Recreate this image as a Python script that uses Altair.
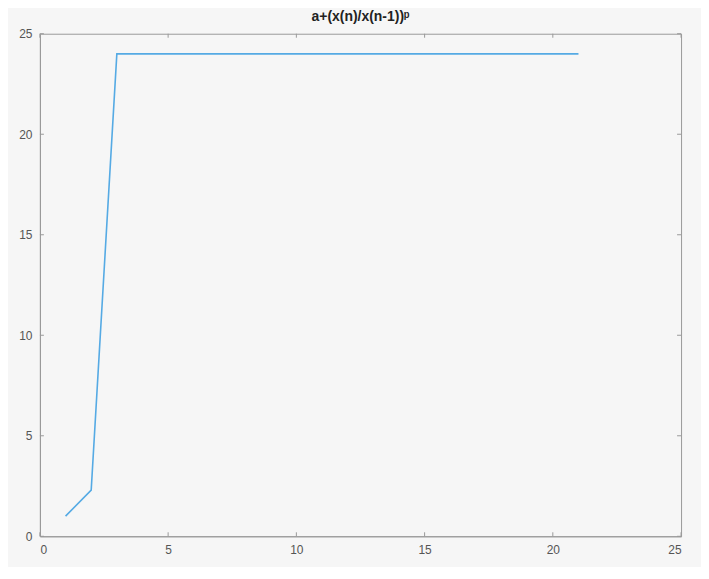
import altair as alt
import pandas as pd

n_vals = [1, 2, 3, 4, 5, 6, 7, 8, 9, 10, 11, 12, 13, 14, 15, 16, 17, 18, 19, 20, 21]
y_vals = [1.0, 2.3, 24, 24, 24, 24, 24, 24, 24, 24, 24, 24, 24, 24, 24, 24, 24, 24, 24, 24, 24]
x_ticks = [0, 5, 10, 15, 20, 25]
y_ticks = [0, 5, 10, 15, 20, 25]
title_text = "a+(x(n)/x(n-1))ᵖ"

W, H = 643, 504
df = pd.DataFrame({"n": n_vals, "v": y_vals})
xt = pd.DataFrame({"t": x_ticks})
yt = pd.DataFrame({"t": y_ticks})

xs = alt.Scale(domain=[0, 25], nice=False, zero=False)
ys = alt.Scale(domain=[0, 25], nice=False, zero=False)
grey = "#9a9a9a"

line = alt.Chart(df).mark_line(color="#55aae4", strokeWidth=1.6).encode(
    x=alt.X("n:Q", scale=xs, axis=alt.Axis(values=x_ticks, title=None, ticks=False,
                                            domainColor=grey, labelColor="#555",
                                            labelFontSize=12, labelPadding=8, grid=False)),
    y=alt.Y("v:Q", scale=ys, axis=alt.Axis(values=y_ticks, title=None, ticks=False,
                                            domainColor=grey, labelColor="#555",
                                            labelFontSize=12, labelPadding=8, grid=False)),
)

tk = dict(color=grey, strokeWidth=1)
bottom = alt.Chart(xt).mark_rule(**tk).encode(x=alt.X("t:Q", scale=xs), y=alt.value(H), y2=alt.value(H - 4))
top = alt.Chart(xt).mark_rule(**tk).encode(x=alt.X("t:Q", scale=xs), y=alt.value(0), y2=alt.value(4))
left = alt.Chart(yt).mark_rule(**tk).encode(y=alt.Y("t:Q", scale=ys), x=alt.value(0), x2=alt.value(4))
right = alt.Chart(yt).mark_rule(**tk).encode(y=alt.Y("t:Q", scale=ys), x=alt.value(W), x2=alt.value(W - 4))

chart = alt.layer(line, bottom, top, left, right).properties(
    width=W, height=H,
    title=alt.TitleParams(title_text, fontSize=14, fontWeight="bold", color="#222", offset=4),
    background="#f6f6f6",
    autosize=alt.AutoSizeParams(type="none"),
    padding={"left": 32, "top": 25, "right": 20, "bottom": 30},
).configure_view(stroke=grey, strokeWidth=1).configure_axis(domainWidth=1)

chart.save("out.html", embed_options={"renderer": "svg", "actions": False})
